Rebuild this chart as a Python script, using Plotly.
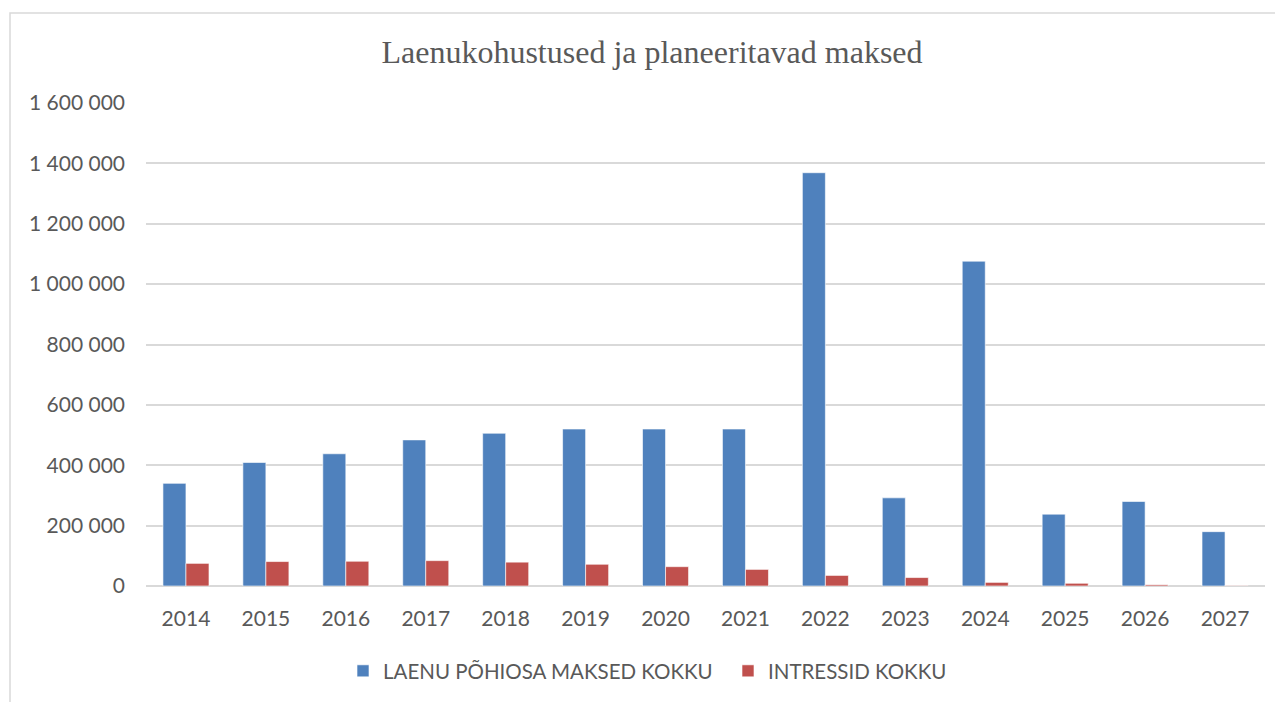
import plotly.graph_objects as go

years = ["2014", "2015", "2016", "2017", "2018", "2019", "2020", "2021",
         "2022", "2023", "2024", "2025", "2026", "2027"]
pohiosa = [340000, 409000, 438000, 484000, 506000, 520000, 520000, 520000,
           1369000, 292000, 1076000, 238000, 280000, 180000]
intressid = [75000, 81000, 82000, 84000, 79000, 72000, 64000, 55000,
             35000, 28000, 12000, 9000, 4000, 1000]
series_names = ["LAENU PÕHIOSA MAKSED KOKKU", "INTRESSID KOKKU"]
title_text = "Laenukohustused ja planeeritavad maksed"
y_ticks = [0, 200000, 400000, 600000, 800000, 1000000, 1200000, 1400000, 1600000]

# page has an 8px body margin (top/left); work in page pixels and offset
OFF = 8
W, H = 1283 - OFF, 702 - OFF
L, R, T, B = 146 - OFF, 18, 103 - OFF, 116
pw, ph = W - L - R, H - T - B

def px_x(p):
    return (p - OFF - L) / pw

def px_y(p):
    return (OFF + H - B - p) / ph

tick_font = dict(family="Lato", size=21, color="#595959")
legend_font = dict(family="Lato", size=20.5, color="#595959")

fig = go.Figure()
fig.add_trace(go.Bar(x=years, y=pohiosa, name=series_names[0], legend="legend",
                     marker=dict(color="#4F81BD", line=dict(color="rgba(255,255,255,0.6)", width=1))))
fig.add_trace(go.Bar(x=years, y=intressid, name=series_names[1], legend="legend2",
                     marker=dict(color="#C0504D", line=dict(color="rgba(255,255,255,0.6)", width=1))))

leg_common = dict(orientation="h", xref="paper", yref="paper", xanchor="left",
                  yanchor="middle", font=legend_font, itemwidth=30,
                  bgcolor="rgba(0,0,0,0)")

fig.update_layout(
    width=W, height=H,
    margin=dict(l=L, r=R, t=T, b=B, autoexpand=False),
    paper_bgcolor="white", plot_bgcolor="white",
    barmode="group", bargap=0.424, bargroupgap=0,
    separators=". ",
    title=dict(text=title_text, xref="container", yref="container",
               x=(652 - OFF) / W, y=1 - (52 - OFF) / H, xanchor="center", yanchor="middle",
               font=dict(family="Liberation Serif", size=32, color="#595959")),
    xaxis=dict(type="category", showgrid=False, showline=False, zeroline=False,
               ticks="", tickfont=tick_font, ticklabelstandoff=18),
    yaxis=dict(range=[0, 1600000], tickvals=y_ticks, tickformat=",d",
               showgrid=True, gridcolor="#D9D9D9", gridwidth=1.5,
               zeroline=True, zerolinecolor="#D9D9D9", zerolinewidth=1.5,
               showline=False, ticks="", tickfont=tick_font, ticklabelstandoff=20),
    legend=dict(x=px_x(343), y=px_y(671), **leg_common),
    legend2=dict(x=px_x(728), y=px_y(671), **leg_common),
    showlegend=True,
)

fig.add_shape(type="rect", xref="paper", yref="paper",
              x0=px_x(10), x1=px_x(1300), y0=px_y(720), y1=px_y(13),
              line=dict(color="#D9D9D9", width=1.5), fillcolor="rgba(0,0,0,0)", layer="below")

fig.write_html("out.html")
